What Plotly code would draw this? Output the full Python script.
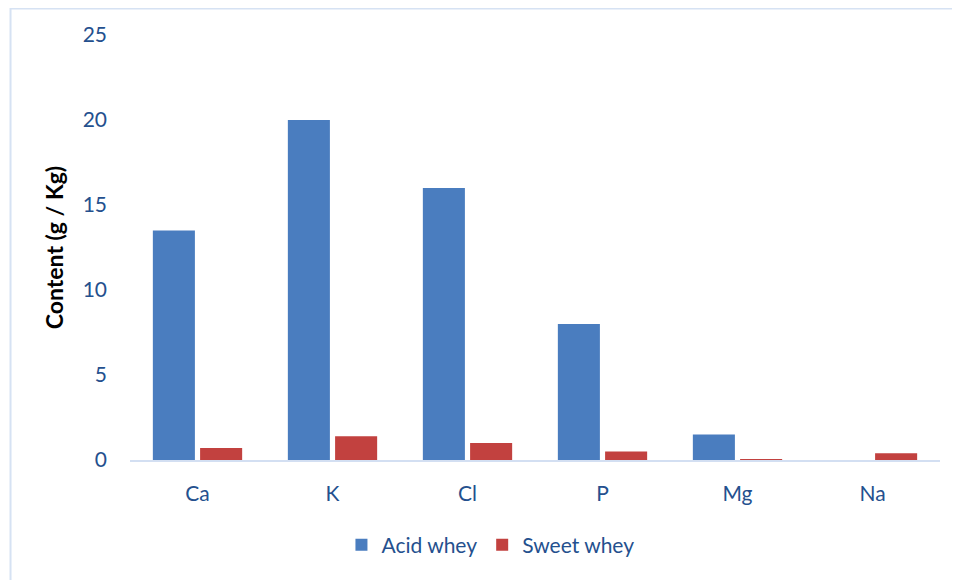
import plotly.graph_objects as go

elements = ["Ca", "K", "Cl", "P", "Mg", "Na"]
acid_whey = [13.5, 20.0, 16.0, 8.0, 1.5, 0.0]
sweet_whey = [0.7, 1.4, 1.0, 0.5, 0.05, 0.4]
y_ticks = [0, 5, 10, 15, 20, 25]

text_color = "#24508e"
font_family = "Lato, Open Sans, sans-serif"

fig = go.Figure()
fig.add_trace(go.Bar(name="Acid whey", x=elements, y=acid_whey,
                     marker=dict(color="#4a7dbf", line=dict(width=0))))
fig.add_trace(go.Bar(name="Sweet whey", x=elements, y=sweet_whey,
                     marker=dict(color="#c2413f", line=dict(width=0))))

fig.update_layout(
    width=952, height=572,
    margin=dict(l=122, r=20, t=27, b=120),
    paper_bgcolor="white", plot_bgcolor="white",
    barmode="group", bargap=0.3, bargroupgap=0.11,
    font=dict(family=font_family, color=text_color, size=21),
    showlegend=True,
    legend=dict(orientation="h", x=0.445, xanchor="center", y=-0.2, yanchor="middle",
                font=dict(size=21, color=text_color), itemwidth=30,
                traceorder="normal"),
    xaxis=dict(showgrid=False, showline=True, linecolor="#d3dff2", linewidth=2,
               ticks="", tickfont=dict(size=21, color=text_color), ticklabelstandoff=14),
    yaxis=dict(range=[0, 25], tickvals=y_ticks, showgrid=False, zeroline=False,
               showline=False, ticks="", tickfont=dict(size=21, color=text_color),
               ticklabelstandoff=22,
               title=dict(text="<b>Content (g / Kg)</b>",
                          font=dict(size=23, color="black", family=font_family),
                          standoff=12)),
    shapes=[dict(type="path", xref="paper", yref="paper",
                 path="M -0.1475,-0.6 L -0.1475,1.0625 L 1.5,1.0625",
                 line=dict(color="#d6e2f3", width=2),
                 layer="below")],
)

fig.write_html("out.html")
